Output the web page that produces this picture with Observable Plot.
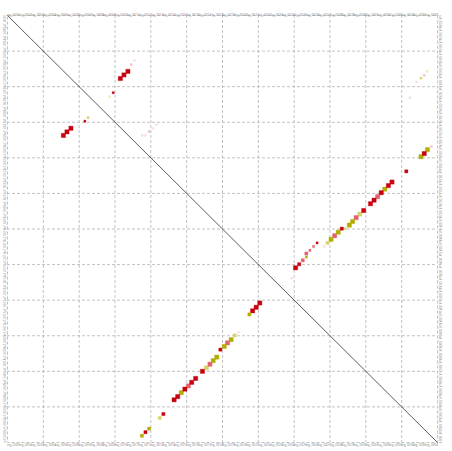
<!DOCTYPE html>
<html>
<head>
<meta charset="utf-8">
<script src="https://cdn.jsdelivr.net/npm/d3@7"></script>
<script src="https://cdn.jsdelivr.net/npm/@observablehq/plot@0.6"></script>
<style>
  html, body { margin: 0; padding: 0; background: #fff; }
  svg { display: block; }
</style>
</head>
<body>
<div id="chart"></div>
<script>
// Axis domains (12 sequence blocks on each axis)
const xDomain = [0, 12];
const yDomain = [0, 12];
const gridBreaks = [0, 1, 2, 3, 4, 5, 6, 7, 8, 9, 10, 11, 12];

// Tiny tick labels along the edges (unreadable in the reference; approximated)
const xTickLabels = ["ctg_0001","ctg_0002","ctg_0003","ctg_0004","ctg_0005","ctg_0006","ctg_0007","ctg_0008",
  "ctg_0009","ctg_0010","ctg_0011","ctg_0012","ctg_0013","ctg_0014","ctg_0015","ctg_0016","ctg_0017","ctg_0018",
  "ctg_0019","ctg_0020","ctg_0021","ctg_0022","ctg_0023","ctg_0024","ctg_0025","ctg_0026","ctg_0027","ctg_0028",
  "ctg_0029","ctg_0030","ctg_0031","ctg_0032","ctg_0033","ctg_0034","ctg_0035","ctg_0036"];
const yTickLabels = ["scf_0001","scf_0002","scf_0003","scf_0004","scf_0005","scf_0006","scf_0007","scf_0008",
  "scf_0009","scf_0010","scf_0011","scf_0012","scf_0013","scf_0014","scf_0015","scf_0016","scf_0017","scf_0018",
  "scf_0019","scf_0020","scf_0021","scf_0022","scf_0023","scf_0024","scf_0025","scf_0026","scf_0027","scf_0028",
  "scf_0029","scf_0030","scf_0031","scf_0032","scf_0033","scf_0034","scf_0035","scf_0036"];

// Alignment hits: position on query (x), position on reference (y), identity class, hit size class
const hitX = [3.15,3.25,3.36,3.45,3.54,2.95,2.85,2.25,2.16,1.56,1.66,1.77,3.76,3.85,3.95,4.06,4.16,
  11.71,11.63,11.54,11.42,11.23,11.83,11.72,11.63,11.54,
  11.13,10.73,10.63,10.53,10.43,10.33,10.23,10.13,9.94,9.83,9.73,9.63,9.54,9.43,9.33,9.23,9.13,9.03,8.93,8.84,
  8.64,8.54,8.44,8.34,8.34,8.24,8.14,8.04,7.93,
  7.04,6.94,6.84,6.75,6.45,6.34,6.24,6.14,6.05,5.94,5.84,5.74,5.65,5.55,5.44,5.25,5.14,5.05,4.95,4.85,4.75,4.65,
  4.35,4.25,3.95,3.85,3.75];
const hitY = [10.23,10.33,10.43,10.62,10.74,9.83,9.72,9.13,9.03,8.63,8.73,8.83,8.63,8.63,8.74,8.83,8.93,
  10.43,10.32,10.24,10.13,9.69,8.32,8.23,8.12,8.03,
  7.62,7.32,7.22,7.12,7.02,6.91,6.81,6.71,6.52,6.42,6.32,6.21,6.11,6.01,6.01,5.91,5.81,5.71,5.61,5.51,
  5.61,5.51,5.40,5.31,5.21,5.12,5.01,4.91,4.62,
  3.92,3.80,3.70,3.60,3.10,3.01,2.89,2.80,2.70,2.61,2.40,2.30,2.20,2.10,2.00,1.80,1.69,1.59,1.50,1.40,1.29,1.20,
  0.80,0.69,0.39,0.29,0.19];
const hitClass = ["r","r","r","pf","f","r","yf","y","r","r","r","r","f","f","pf","f","f",
  "yf","pf","y","f","f","pf","o","r","o",
  "r","r","r","o","r","p","r","r","r","y","p","o","o","y","r","o","p","o","y","f",
  "r","p","p","p","o","p","r","r","f",
  "r","r","r","o","f","y","o","p","o","r","o","o","p","y","r","r","r","p","r","o","r","r",
  "r","y","o","r","o"];
const hitSize = ["L","L","L","S","S","S","S","S","S","L","L","L","S","S","S","S","S",
  "S","S","S","S","S","S","L","L","L",
  "M","L","L","L","L","L","L","L","L","L","L","L","L","S","M","L","L","L","M","S",
  "S","S","S","M","S","M","M","L",
  "S","L","L","L","M","S","M","L","L","L","M","L","L","L","L","L","L","L","L","L","L","L","L",
  "M","M","M","M","M"];

const classColors = {r: "#c8000f", p: "#e2606f", o: "#b3ad00", y: "#d9d46a", pf: "#f5c4cc", yf: "#efecc0", f: "#f9e0e4"};
const sizeRadius = {L: 2.4, M: 1.8, S: 1.2};

const hits = hitX.map((x, i) => ({x, y: hitY[i], cls: hitClass[i], size: hitSize[i]}));
const drawOrder = ["f", "pf", "yf", "y", "p", "o", "r"];
hits.sort((a, b) => drawOrder.indexOf(a.cls) - drawOrder.indexOf(b.cls));

const diagonal = [{x1: xDomain[0], y1: yDomain[1], x2: xDomain[1], y2: yDomain[0]}];
const xLabelPos = xTickLabels.map((_, i) => xDomain[0] + (i + 0.5) * (xDomain[1] - xDomain[0]) / xTickLabels.length);
const yLabelPos = yTickLabels.map((_, i) => yDomain[0] + (i + 0.5) * (yDomain[1] - yDomain[0]) / yTickLabels.length);

const chart = Plot.plot({
  width: 452,
  height: 451,
  marginLeft: 7,
  marginRight: 15,
  marginTop: 15,
  marginBottom: 9,
  x: {domain: xDomain, axis: null},
  y: {domain: yDomain, axis: null},
  r: {type: "identity"},
  style: {background: "#fff"},
  marks: [
    Plot.ruleX(gridBreaks.slice(1, -1), {stroke: "#b4b4b4", strokeWidth: 0.8, strokeDasharray: "3,2"}),
    Plot.ruleY(gridBreaks.slice(1, -1), {stroke: "#b4b4b4", strokeWidth: 0.8, strokeDasharray: "3,2"}),
    Plot.frame({stroke: "#b4b4b4", strokeWidth: 0.8, strokeDasharray: "3,2"}),
    Plot.link(diagonal, {x1: "x1", y1: "y1", x2: "x2", y2: "y2", stroke: "#333", strokeWidth: 0.8}),
    Plot.dot(hits, {
      x: "x", y: "y", symbol: "square",
      r: d => sizeRadius[d.size],
      fill: d => classColors[d.cls],
      stroke: d => classColors[d.cls],
      strokeOpacity: 0.35,
      strokeWidth: 1
    }),
    Plot.text(xTickLabels, {x: (d, i) => xLabelPos[i], frameAnchor: "top", dy: -2, text: d => d, fontSize: 3.2, fill: "#8c8c8c", textAnchor: "middle"}),
    Plot.text(xTickLabels, {x: (d, i) => xLabelPos[i], frameAnchor: "bottom", dy: 3, text: d => d, fontSize: 3.2, fill: "#8c8c8c", textAnchor: "middle"}),
    Plot.text(yTickLabels, {y: (d, i) => yLabelPos[i], frameAnchor: "left", dx: -3, rotate: -90, text: d => d, fontSize: 3.2, fill: "#8c8c8c", textAnchor: "middle"}),
    Plot.text(yTickLabels, {y: (d, i) => yLabelPos[i], frameAnchor: "right", dx: 3, rotate: 90, text: d => d, fontSize: 3.2, fill: "#8c8c8c", textAnchor: "middle"})
  ]
});
document.getElementById("chart").appendChild(chart);
</script>
</body>
</html>
